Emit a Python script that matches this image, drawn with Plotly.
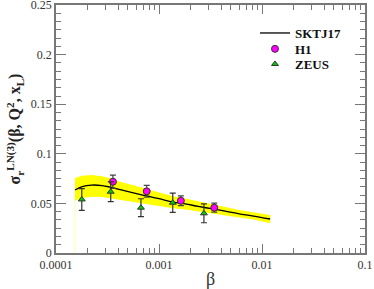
import plotly.graph_objects as go

# SKTJ17 prediction curve and uncertainty band
beta_curve = [1.53e-4, 1.8e-4, 2.22e-4, 2.8e-4, 3.34e-4, 4.2e-4, 5.5e-4, 7.6e-4, 1.0e-3, 1.37e-3, 1.8e-3, 2.4e-3, 3.34e-3, 4.5e-3, 6.0e-3, 8.0e-3, 1.2e-2]
sigma_curve = [0.0635, 0.0670, 0.0685, 0.0680, 0.0665, 0.0640, 0.0610, 0.0575, 0.0548, 0.0514, 0.0495, 0.0470, 0.0444, 0.0420, 0.0395, 0.0375, 0.0343]
band_upper = [0.0756, 0.0780, 0.0786, 0.0775, 0.0755, 0.0719, 0.0685, 0.0645, 0.0612, 0.0573, 0.0550, 0.0520, 0.0490, 0.0462, 0.0433, 0.0410, 0.0383]
band_lower = [0.0527, 0.0555, 0.0568, 0.0565, 0.0553, 0.0534, 0.0515, 0.0495, 0.0475, 0.0452, 0.0438, 0.0418, 0.0398, 0.0378, 0.0357, 0.0340, 0.0300]

# H1 data
beta_h1 = [3.57e-4, 7.6e-4, 1.63e-3, 3.44e-3]
sigma_h1 = [0.0719, 0.0622, 0.0527, 0.0457]
err_h1 = [0.0067, 0.0060, 0.0050, 0.0045]

# ZEUS data
beta_zeus = [1.78e-4, 3.4e-4, 6.68e-4, 1.36e-3, 2.73e-3]
sigma_zeus = [0.0540, 0.0618, 0.0457, 0.0507, 0.0400]
err_zeus = [0.0110, 0.0100, 0.0090, 0.0097, 0.0095]

x_tickvals = [1e-4, 1e-3, 1e-2, 1e-1]
x_ticktext = ["0.0001", "0.001", "0.01", "0.1"]
y_tickvals = [0, 0.05, 0.1, 0.15, 0.2, 0.25]
y_ticktext = ["0", "0.05", "0.1", "0.15", "0.2", "0.25"]

serif = "Liberation Serif"

fig = go.Figure()

# thin vertical edge of the band down to the axis
fig.add_trace(go.Scatter(x=[beta_curve[0], beta_curve[0]], y=[0, band_lower[0]],
                         mode="lines", line=dict(color="#ffffaa", width=1),
                         showlegend=False, hoverinfo="skip"))
# band
fig.add_trace(go.Scatter(x=beta_curve + beta_curve[::-1], y=band_upper + band_lower[::-1],
                         fill="toself", fillcolor="#ffff00", line=dict(color="#ffff00", width=0),
                         mode="lines", showlegend=False, hoverinfo="skip"))
fig.add_trace(go.Scatter(x=beta_curve, y=sigma_curve, mode="lines", legend="legend",
                         line=dict(color="black", width=1.3, shape="spline"), name="<b>SKTJ17</b>"))
fig.add_trace(go.Scatter(x=beta_h1, y=sigma_h1, mode="markers", name="<b>H1</b>", legend="legend2",
                         marker=dict(symbol="circle", size=7, color="#ff00ff",
                                     line=dict(color="#333333", width=1)),
                         error_y=dict(type="data", array=err_h1, color="#444444", thickness=1.2, width=3)))
fig.add_trace(go.Scatter(x=beta_zeus, y=sigma_zeus, mode="markers", name="<b>ZEUS</b>", legend="legend3",
                         marker=dict(symbol="triangle-up", size=6, color="#00cc00",
                                     line=dict(color="#333333", width=1)),
                         error_y=dict(type="data", array=err_zeus, color="#333333", thickness=1.2, width=3)))

axis_common = dict(showline=True, linecolor="#777777", linewidth=1.5, mirror="allticks",
                   ticks="inside", tickcolor="#777777", showgrid=False, zeroline=False,
                   automargin=False, ticklabeloverflow="allow",
                   tickfont=dict(family=serif, size=12, color="#333333"))

fig.update_xaxes(type="log", range=[-4, -1], tickvals=x_tickvals, ticktext=x_ticktext,
                 ticklen=9, tickwidth=1.2,
                 minor=dict(ticks="inside", ticklen=5, tickcolor="#777777", dtick="D1", showgrid=False),
                 title=dict(text="β", font=dict(family=serif, size=18, color="#333333"), standoff=2),
                 **axis_common)
fig.update_yaxes(range=[0, 0.2501], tickvals=y_tickvals, ticktext=y_ticktext,
                 ticklen=10, tickwidth=1.2,
                 minor=dict(ticks="inside", ticklen=5, tickcolor="#777777", tick0=0, dtick=0.05 / 6, showgrid=False),
                 title=dict(text="<b>σ<sub>r</sub><sup>LN(3)</sup>(β, Q<sup>2</sup>, x<sub>L</sub>)</b>",
                            font=dict(family=serif, size=16, color="#222222"), standoff=6),
                 **axis_common)

leg_common = dict(x=0.644, xanchor="left", yanchor="middle", bgcolor="rgba(0,0,0,0)",
                  font=dict(family=serif, size=13, color="#111111"))
fig.update_layout(
    width=374, height=289,
    margin=dict(l=56, r=9, t=5, b=36),
    plot_bgcolor="white", paper_bgcolor="white",
    showlegend=True,
    legend=dict(y=0.887, **leg_common),
    legend2=dict(y=0.823, **leg_common),
    legend3=dict(y=0.762, **leg_common),
)

fig.write_html("out.html", config={"displayModeBar": False},
               post_script="document.body.style.margin='0';")
